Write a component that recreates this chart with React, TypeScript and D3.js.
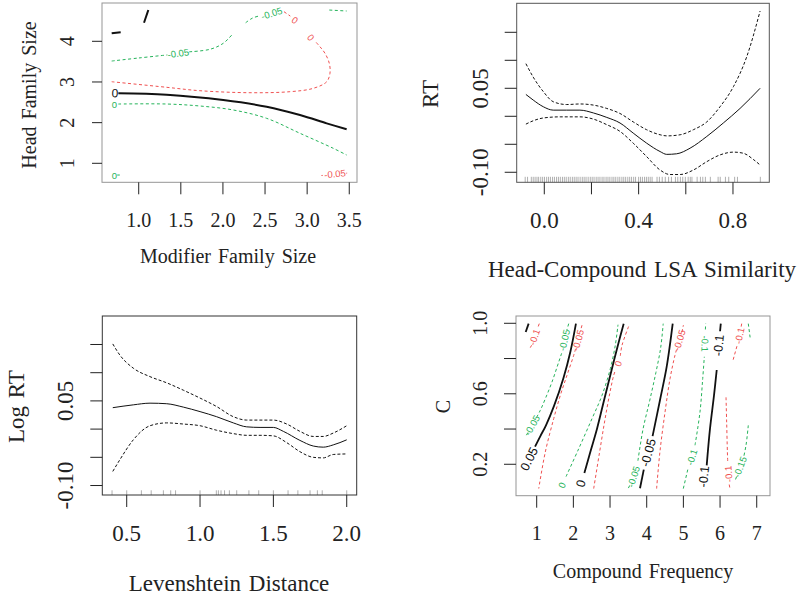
import React from "react";
import * as d3 from "d3";

type Pt = [number, number];
interface CLabel { x: number; y: number; text: string; flip?: boolean }
interface Contour { color: "black" | "green" | "red"; segs: Pt[][]; labels: CLabel[] }

// ---------------- Panel 1: Modifier Family Size x Head Family Size ----------------
const p1XTicks = [1.0, 1.5, 2.0, 2.5, 3.0, 3.5];
const p1XTickLabels = ["1.0", "1.5", "2.0", "2.5", "3.0", "3.5"];
const p1YTicks = [1, 2, 3, 4];
const p1YTickLabels = ["1", "2", "3", "4"];
const p1Contours: Contour[] = [
  { color: "black", segs: [[[0.758, 2.721], [1.332, 2.687], [2.004, 2.556], [2.519, 2.392], [2.915, 2.188], [3.232, 1.983], [3.469, 1.836]]], labels: [{ x: 0.719, y: 2.72, text: "0" }] },
  { color: "black", segs: [[[0.679, 4.196], [0.786, 4.221]]], labels: [] },
  { color: "black", segs: [[[1.063, 4.457], [1.088, 4.61], [1.114, 4.769]]], labels: [] },
  { color: "green", segs: [[[0.679, 3.515], [1.0, 3.59], [1.34, 3.665]], [[1.6, 3.742], [1.846, 3.803], [2.004, 3.951], [2.123, 4.197]], [[2.27, 4.457], [2.35, 4.57], [2.44, 4.63]]], labels: [{ x: 1.47, y: 3.705, text: "-0.05" }, { x: 2.579, y: 4.688, text: "-0.05" }] },
  { color: "green", segs: [[[3.263, 4.769], [3.469, 4.745]]], labels: [] },
  { color: "red", segs: [[[2.725, 4.728], [2.80, 4.62]]], labels: [{ x: 2.855, y: 4.52, text: "0" }] },
  { color: "red", segs: [[[0.679, 3.006], [1.332, 2.869], [1.728, 2.785], [2.321, 2.736], [2.796, 2.761], [3.073, 2.844], [3.232, 3.006], [3.271, 3.213], [3.263, 3.459], [3.212, 3.705], [3.152, 3.867], [3.10, 3.99]]], labels: [{ x: 3.045, y: 4.098, text: "0" }] },
  { color: "green", segs: [[[0.758, 2.458], [1.332, 2.458], [1.728, 2.409], [2.123, 2.311], [2.519, 2.106], [2.915, 1.738], [3.31, 1.369], [3.469, 1.204]]], labels: [{ x: 0.71, y: 2.434, text: "0" }] },
  { color: "green", segs: [[[0.745, 0.712], [0.775, 0.712]]], labels: [{ x: 0.71, y: 0.712, text: "0" }] },
  { color: "red", segs: [[[3.17, 0.70], [3.185, 0.702]], [[3.465, 0.757], [3.475, 0.759]]], labels: [{ x: 3.33, y: 0.74, text: "-0.05" }] },
];

// ---------------- Panel 2: Head-Compound LSA Similarity ----------------
const p2XTicks = [0.0, 0.2, 0.4, 0.6, 0.8];
const p2XTickLabels = ["0.0", null, "0.4", null, "0.8"];
const p2YTicks = [-0.10, -0.05, 0.0, 0.05, 0.10, 0.15];
const p2YTickLabels = ["-0.10", null, null, "0.05", null, null];
const p2Fit: Pt[] = [[-0.078, 0.039], [-0.047, 0.029], [-0.004, 0.017], [0.038, 0.011], [0.095, 0.011], [0.151, 0.011], [0.208, 0.006], [0.265, -0.002], [0.321, -0.012], [0.377, -0.030], [0.434, -0.048], [0.491, -0.063], [0.519, -0.068], [0.561, -0.067], [0.618, -0.057], [0.689, -0.036], [0.759, -0.012], [0.830, 0.014], [0.915, 0.050]];
const p2Upper: Pt[] = [[-0.078, 0.094], [-0.047, 0.070], [-0.004, 0.044], [0.038, 0.026], [0.095, 0.021], [0.151, 0.022], [0.208, 0.020], [0.265, 0.014], [0.321, 0.005], [0.377, -0.010], [0.434, -0.024], [0.491, -0.033], [0.519, -0.035], [0.576, -0.033], [0.632, -0.024], [0.689, -0.010], [0.745, 0.017], [0.802, 0.053], [0.858, 0.106], [0.915, 0.188]];
const p2Lower: Pt[] = [[-0.078, -0.014], [-0.047, -0.008], [-0.004, -0.003], [0.067, -0.001], [0.151, -0.001], [0.208, -0.005], [0.265, -0.015], [0.321, -0.027], [0.377, -0.048], [0.434, -0.072], [0.491, -0.096], [0.533, -0.104], [0.576, -0.104], [0.632, -0.096], [0.689, -0.081], [0.745, -0.069], [0.802, -0.064], [0.844, -0.066], [0.886, -0.077], [0.915, -0.087]];
const p2Rug = [-0.081, -0.071, -0.055, -0.047, -0.039, -0.031, -0.024, -0.015, -0.007, 0.001, 0.010, 0.018, 0.026, 0.035, 0.043, 0.052, 0.060, 0.068, 0.077, 0.085, 0.093, 0.102, 0.110, 0.119, 0.127, 0.135, 0.143, 0.152, 0.161, 0.169, 0.177, 0.186, 0.195, 0.203, 0.211, 0.220, 0.228, 0.236, 0.245, 0.253, 0.262, 0.270, 0.278, 0.287, 0.295, 0.303, 0.312, 0.320, 0.329, 0.337, 0.345, 0.354, 0.362, 0.370, 0.379, 0.387, 0.400, 0.408, 0.416, 0.425, 0.433, 0.441, 0.449, 0.457, 0.478, 0.488, 0.500, 0.513, 0.527, 0.539, 0.556, 0.566, 0.577, 0.587, 0.598, 0.610, 0.619, 0.626, 0.648, 0.662, 0.672, 0.683, 0.704, 0.737, 0.746, 0.768, 0.782, 0.807, 0.819, 0.916];

// ---------------- Panel 3: Levenshtein Distance ----------------
const p3XTicks = [0.5, 1.0, 1.5, 2.0];
const p3XTickLabels = ["0.5", "1.0", "1.5", "2.0"];
const p3YTicks = [-0.10, -0.05, 0.0, 0.05, 0.10, 0.15];
const p3YTickLabels = ["-0.10", null, null, "0.05", null, null];
const p3Fit: Pt[] = [[0.405, 0.038], [0.545, 0.043], [0.659, 0.046], [0.773, 0.045], [0.886, 0.039], [1.0, 0.031], [1.113, 0.022], [1.227, 0.011], [1.318, 0.004], [1.409, 0.003], [1.5, 0.003], [1.568, -0.004], [1.681, -0.020], [1.772, -0.030], [1.840, -0.032], [1.908, -0.028], [2.0, -0.019]];
const p3Upper: Pt[] = [[0.405, 0.151], [0.454, 0.131], [0.545, 0.108], [0.659, 0.093], [0.773, 0.082], [0.886, 0.069], [1.0, 0.055], [1.113, 0.040], [1.227, 0.022], [1.318, 0.016], [1.409, 0.016], [1.5, 0.016], [1.591, 0.009], [1.681, -0.004], [1.772, -0.013], [1.840, -0.013], [1.908, -0.007], [2.0, 0.006]];
const p3Lower: Pt[] = [[0.405, -0.075], [0.454, -0.054], [0.545, -0.019], [0.659, 0.006], [0.773, 0.011], [0.886, 0.009], [1.0, 0.006], [1.113, -0.002], [1.227, -0.008], [1.318, -0.011], [1.409, -0.011], [1.5, -0.012], [1.591, -0.024], [1.681, -0.040], [1.772, -0.050], [1.840, -0.051], [1.908, -0.045], [2.0, -0.044]];
const p3Rug = [0.4, 0.5, 0.6, 0.667, 0.75, 0.8, 0.833, 1.0, 1.111, 1.125, 1.143, 1.167, 1.2, 1.25, 1.333, 1.4, 1.5, 1.6, 1.667, 1.75, 1.8, 1.833, 2.0];

// ---------------- Panel 4: Compound Frequency x C ----------------
const p4XTicks = [1, 2, 3, 4, 5, 6, 7];
const p4XTickLabels = ["1", "2", "3", "4", "5", "6", "7"];
const p4YTicks = [0.2, 0.4, 0.6, 0.8, 1.0];
const p4YTickLabels = ["0.2", null, "0.6", null, "1.0"];
const p4Contours: Contour[] = [
  { color: "black", segs: [[[0.955, 0.30], [1.10, 0.36], [1.25, 0.42], [1.47, 0.53], [1.73, 0.69], [1.92, 0.84], [2.07, 0.998]]], labels: [{ x: 0.80, y: 0.23, text: "0.05" }] },
  { color: "black", segs: [[[0.70, 0.951], [0.78, 0.998]]], labels: [] },
  { color: "red", segs: [[[1.07, 0.998], [1.03, 0.975]], [[0.86, 0.875], [0.825, 0.862]]], labels: [{ x: 0.935, y: 0.922, text: "-0.1" }] },
  { color: "green", segs: [[[1.873, 0.998], [1.82, 0.96]], [[1.68, 0.83], [1.60, 0.78], [1.417, 0.667], [1.235, 0.572], [1.098, 0.506], [0.98, 0.46]], [[0.76, 0.38], [0.708, 0.361]]], labels: [{ x: 1.753, y: 0.904, text: "-0.05" }, { x: 0.872, y: 0.421, text: "-0.05" }] },
  { color: "red", segs: [[[2.235, 0.989], [2.19, 0.955]], [[2.06, 0.855], [2.009, 0.818], [1.826, 0.705], [1.644, 0.591], [1.464, 0.459], [1.235, 0.27], [1.055, 0.062]]], labels: [{ x: 2.126, y: 0.904, text: "-0.05" }] },
  { color: "green", segs: [[[1.80, 0.13], [2.145, 0.288], [2.508, 0.459], [2.781, 0.591], [3.007, 0.742], [3.143, 0.875], [3.217, 0.992]]], labels: [{ x: 1.69, y: 0.081, text: "0" }] },
  { color: "black", segs: [[[2.30, 0.15], [2.462, 0.27], [2.645, 0.402], [2.85, 0.575], [3.007, 0.705], [3.19, 0.856], [3.372, 0.998]]], labels: [{ x: 2.21, y: 0.09, text: "0" }] },
  { color: "red", segs: [[[2.554, 0.062], [2.70, 0.25], [2.85, 0.44], [2.99, 0.60], [3.10, 0.705], [3.15, 0.735]], [[3.28, 0.815], [3.326, 0.875], [3.525, 0.992]]], labels: [{ x: 3.217, y: 0.771, text: "0" }] },
  { color: "green", segs: [[[3.50, 0.065], [3.55, 0.085]], [[3.76, 0.22], [3.90, 0.40], [4.08, 0.56], [4.25, 0.72], [4.38, 0.86], [4.45, 0.998]]], labels: [{ x: 3.64, y: 0.13, text: "-0.05" }] },
  { color: "black", segs: [[[3.817, 0.064], [3.92, 0.17]], [[4.16, 0.36], [4.363, 0.565], [4.545, 0.754], [4.709, 0.998]]], labels: [{ x: 4.05, y: 0.265, text: "-0.05" }] },
  { color: "red", segs: [[[4.27, 0.062], [4.36, 0.27], [4.50, 0.497], [4.636, 0.686], [4.77, 0.818], [4.82, 0.855]], [[4.96, 0.95], [5.0, 0.989]]], labels: [{ x: 4.89, y: 0.904, text: "-0.05" }] },
  { color: "green", segs: [[[4.998, 0.062], [5.12, 0.17]], [[5.317, 0.308], [5.453, 0.497], [5.527, 0.686], [5.571, 0.81]], [[5.60, 0.965], [5.608, 0.998]]], labels: [{ x: 5.227, y: 0.24, text: "-0.1" }, { x: 5.59, y: 0.884, text: "-0.1", flip: true }] },
  { color: "black", segs: [[[5.636, 0.194], [5.726, 0.402], [5.835, 0.591], [5.909, 0.735]], [[6.0, 0.955], [6.02, 0.998]]], labels: [{ x: 5.565, y: 0.13, text: "-0.1" }, { x: 5.97, y: 0.875, text: "-0.1" }] },
  { color: "red", segs: [[[6.59, 0.998], [6.575, 0.98]], [[6.46, 0.87], [6.34, 0.78]]], labels: [{ x: 6.53, y: 0.93, text: "-0.1" }] },
  { color: "green", segs: [[[6.77, 0.998], [6.82, 0.92]]], labels: [] },
  { color: "red", segs: [[[6.163, 0.58], [6.18, 0.44], [6.20, 0.27], [6.21, 0.21]], [[6.25, 0.085], [6.27, 0.062]]], labels: [{ x: 6.23, y: 0.145, text: "-0.1", flip: true }] },
  { color: "green", segs: [[[6.77, 0.421], [6.708, 0.308], [6.634, 0.232]], [[6.45, 0.13], [6.408, 0.105]]], labels: [{ x: 6.544, y: 0.185, text: "-0.15" }] },
];

// ---------------- styling / layout ----------------
const SERIF = "'Liberation Serif', 'Times New Roman', Times, serif";
const SANS = "'Liberation Sans', Arial, Helvetica, sans-serif";
const COLORS: Record<string, string> = { black: "#111", green: "#25b35a", red: "#ef5050" };

interface Box { l: number; t: number; r: number; b: number }

interface FrameProps {
  sx: d3.ScaleLinear<number, number>;
  sy: d3.ScaleLinear<number, number>;
  box: Box;
  xTicks: number[]; xLabels: (string | null)[];
  yTicks: number[]; yLabels: (string | null)[];
  fs: number; xLabBase: number; yLabBase: number;
  xTitle: string; xTitleBase: number; xTitleX: number;
  yTitle: string; yTitleBase: number; yTitleY: number;
  boxColor: string; yTickLen: number;
}

function Frame(p: FrameProps) {
  const { box } = p;
  return (
    <g>
      <rect x={box.l} y={box.t} width={box.r - box.l} height={box.b - box.t} fill="none" stroke={p.boxColor} strokeWidth={1} />
      {p.xTicks.map((t, i) => (
        <g key={"x" + i}>
          <line x1={p.sx(t)} x2={p.sx(t)} y1={box.b} y2={box.b + 12} stroke="#222" strokeWidth={1} />
          {p.xLabels[i] != null && (
            <text x={p.sx(t)} y={p.xLabBase} textAnchor="middle" fontFamily={SERIF} fontSize={p.fs} fill="#222">{p.xLabels[i]}</text>
          )}
        </g>
      ))}
      {p.yTicks.map((t, i) => (
        <g key={"y" + i}>
          <line x1={box.l - p.yTickLen} x2={box.l} y1={p.sy(t)} y2={p.sy(t)} stroke="#222" strokeWidth={1} />
          {p.yLabels[i] != null && (
            <text transform={`translate(${p.yLabBase},${p.sy(t)}) rotate(-90)`} textAnchor="middle" fontFamily={SERIF} fontSize={p.fs} fill="#222">{p.yLabels[i]}</text>
          )}
        </g>
      ))}
      <text x={p.xTitleX} y={p.xTitleBase} textAnchor="middle" fontFamily={SERIF} fontSize={p.fs} fill="#222" style={{ wordSpacing: "2px" }}>{p.xTitle}</text>
      <text transform={`translate(${p.yTitleBase},${p.yTitleY}) rotate(-90)`} textAnchor="middle" fontFamily={SERIF} fontSize={p.fs} fill="#222" style={{ wordSpacing: "2px" }}>{p.yTitle}</text>
    </g>
  );
}

function labelAngle(c: Contour, lab: CLabel, sx: (v: number) => number, sy: (v: number) => number) {
  const L: Pt = [sx(lab.x), sy(lab.y)];
  const pts: Pt[] = c.segs.flat().map((q) => [sx(q[0]), sy(q[1])] as Pt);
  if (pts.length < 2) return 0;
  const byDist = pts.map((q) => ({ q, d: Math.hypot(q[0] - L[0], q[1] - L[1]) })).sort((a, b) => a.d - b.d);
  const A = byDist[0].q;
  const Bc = byDist.slice(1).find((o) => Math.hypot(o.q[0] - A[0], o.q[1] - A[1]) > 4) || byDist[1];
  const B = Bc.q;
  let ang = (Math.atan2(B[1] - A[1], B[0] - A[0]) * 180) / Math.PI;
  while (ang >= 90) ang -= 180;
  while (ang < -90) ang += 180;
  if (lab.flip) ang += 180;
  return ang;
}

function ContourLayer({ contours, sx, sy, blackW, blackFs }: { contours: Contour[]; sx: d3.ScaleLinear<number, number>; sy: d3.ScaleLinear<number, number>; blackW: number; blackFs: number }) {
  const line = d3.line<Pt>().x((d) => sx(d[0])).y((d) => sy(d[1])).curve(d3.curveCatmullRom.alpha(0.5));
  return (
    <g>
      {contours.map((c, ci) => (
        <g key={ci}>
          {c.segs.map((s, si) => (
            <path key={si} d={line(s) || ""} fill="none" stroke={COLORS[c.color]}
              strokeWidth={c.color === "black" ? blackW : 1}
              strokeDasharray={c.color === "black" ? undefined : "3 2.5"} />
          ))}
          {c.labels.map((lab, li) => {
            const ang = labelAngle(c, lab, sx, sy);
            return (
              <text key={"l" + li} transform={`translate(${sx(lab.x)},${sy(lab.y)}) rotate(${ang})`}
                textAnchor="middle" dominantBaseline="central" fontFamily={SANS}
                fontSize={c.color === "black" ? blackFs : 9.5} fill={COLORS[c.color]}>{lab.text}</text>
            );
          })}
        </g>
      ))}
    </g>
  );
}

function SmoothPanel({ sx, sy, fit, upper, lower, rug, rugLen, box }: { sx: d3.ScaleLinear<number, number>; sy: d3.ScaleLinear<number, number>; fit: Pt[]; upper: Pt[]; lower: Pt[]; rug: number[]; rugLen: number; box: Box }) {
  const line = d3.line<Pt>().x((d) => sx(d[0])).y((d) => sy(d[1])).curve(d3.curveMonotoneX);
  return (
    <g>
      {rug.map((v, i) => (
        <line key={i} x1={sx(v)} x2={sx(v)} y1={box.b - rugLen} y2={box.b} stroke="#9a9a9a" strokeWidth={0.8} />
      ))}
      <path d={line(upper) || ""} fill="none" stroke="#111" strokeWidth={1} strokeDasharray="3 2" />
      <path d={line(lower) || ""} fill="none" stroke="#111" strokeWidth={1} strokeDasharray="3 2" />
      <path d={line(fit) || ""} fill="none" stroke="#111" strokeWidth={1} />
    </g>
  );
}

export default function App() {
  const b1: Box = { l: 102, t: 3, r: 357, b: 182.3 };
  const b2: Box = { l: 516.7, t: 3.3, r: 769.3, b: 182.3 };
  const b3: Box = { l: 102.3, t: 316, r: 356.7, b: 495 };
  const b4: Box = { l: 516, t: 316, r: 770, b: 495.7 };

  const s1x = d3.scaleLinear().domain([0.564, 3.592]).range([b1.l, b1.r]);
  const s1y = d3.scaleLinear().domain([0.533, 4.942]).range([b1.b, b1.t]);
  const s2x = d3.scaleLinear().domain([-0.117, 0.954]).range([b2.l, b2.r]);
  const s2y = d3.scaleLinear().domain([-0.1179, 0.2018]).range([b2.b, b2.t]);
  const s3x = d3.scaleLinear().domain([0.3336, 2.068]).range([b3.l, b3.r]);
  const s3y = d3.scaleLinear().domain([-0.1168, 0.2005]).range([b3.b, b3.t]);
  const s4x = d3.scaleLinear().domain([0.4355, 7.362]).range([b4.l, b4.r]);
  const s4y = d3.scaleLinear().domain([0.0217, 1.0414]).range([b4.b, b4.t]);

  return (
    <svg width={803} height={596} viewBox="0 0 803 596" style={{ position: "absolute", left: 0, top: 0, background: "#fff" }}>
      <rect x={0} y={0} width={803} height={596} fill="#fff" />
      <defs>
        <clipPath id="c1"><rect x={b1.l} y={b1.t} width={b1.r - b1.l} height={b1.b - b1.t} /></clipPath>
        <clipPath id="c4"><rect x={b4.l} y={b4.t} width={b4.r - b4.l} height={b4.b - b4.t} /></clipPath>
      </defs>
      {/* Panel 1 */}
      <g clipPath="url(#c1)">
        <ContourLayer contours={p1Contours} sx={s1x} sy={s1y} blackW={2} blackFs={12} />
      </g>
      <Frame sx={s1x} sy={s1y} box={b1} xTicks={p1XTicks} xLabels={p1XTickLabels} yTicks={p1YTicks} yLabels={p1YTickLabels}
        fs={20} xLabBase={226.7} yLabBase={73.6} xTitle="Modifier Family Size" xTitleBase={263.3} xTitleX={228}
        yTitle="Head Family Size" yTitleBase={35.5} yTitleY={95} boxColor="#959595" yTickLen={10} />

      {/* Panel 2 */}
      <SmoothPanel sx={s2x} sy={s2y} fit={p2Fit} upper={p2Upper} lower={p2Lower} rug={p2Rug} rugLen={5.5} box={b2} />
      <Frame sx={s2x} sy={s2y} box={b2} xTicks={p2XTicks} xLabels={p2XTickLabels} yTicks={p2YTicks} yLabels={p2YTickLabels}
        fs={23} xLabBase={227.7} yLabBase={487.6} xTitle="Head-Compound LSA Similarity" xTitleBase={276.5} xTitleX={642}
        yTitle="RT" yTitleBase={438.3} yTitleY={94} boxColor="#555" yTickLen={12} />

      {/* Panel 3 */}
      <SmoothPanel sx={s3x} sy={s3y} fit={p3Fit} upper={p3Upper} lower={p3Lower} rug={p3Rug} rugLen={4.7} box={b3} />
      <Frame sx={s3x} sy={s3y} box={b3} xTicks={p3XTicks} xLabels={p3XTickLabels} yTicks={p3YTicks} yLabels={p3YTickLabels}
        fs={23} xLabBase={541} yLabBase={72.6} xTitle="Levenshtein Distance" xTitleBase={590.7} xTitleX={229}
        yTitle="Log RT" yTitleBase={23.5} yTitleY={406.7} boxColor="#333" yTickLen={12} />

      {/* Panel 4 */}
      <g clipPath="url(#c4)">
        <ContourLayer contours={p4Contours} sx={s4x} sy={s4y} blackW={1.8} blackFs={12.5} />
      </g>
      <Frame sx={s4x} sy={s4y} box={b4} xTicks={p4XTicks} xLabels={p4XTickLabels} yTicks={p4YTicks} yLabels={p4YTickLabels}
        fs={20} xLabBase={540} yLabBase={486.6} xTitle="Compound Frequency" xTitleBase={577.7} xTitleX={643}
        yTitle="C" yTitleBase={450} yTitleY={406.7} boxColor="#959595" yTickLen={12} />
    </svg>
  );
}
